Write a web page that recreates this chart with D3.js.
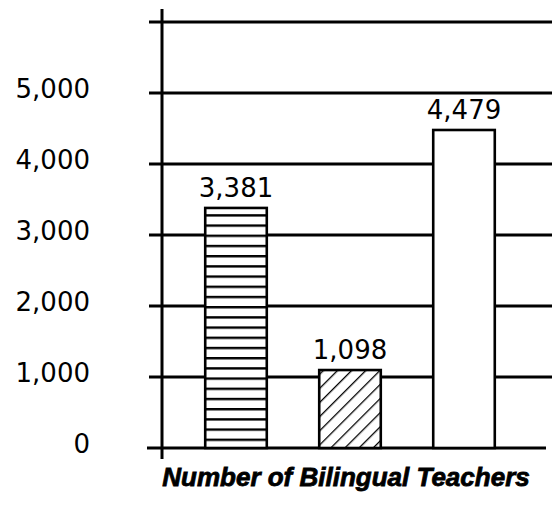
<!DOCTYPE html>
<html>
<head>
<meta charset="utf-8">
<script src="https://cdn.jsdelivr.net/npm/d3@7"></script>
<style>
  body { margin: 0; background: #fff; }
  svg { display: block; }
</style>
</head>
<body>
<div id="chart"></div>
<script>
const width = 554;
const height = 505;

// data
const groups = ["A", "B", "C"];
const teachers = [3381, 1098, 4479];
const fills = ["hlines", "diag", "plain"];
const yTicks = [0, 1000, 2000, 3000, 4000, 5000, 6000];
const yTickLabels = ["0", "1,000", "2,000", "3,000", "4,000", "5,000", ""];
const title = "Number of Bilingual Teachers";

const axisX = 162;

const svg = d3.select("#chart").append("svg")
    .attr("width", width)
    .attr("height", height);

const defs = svg.append("defs");

// horizontal stripes
const ph = defs.append("pattern")
    .attr("id", "hlines")
    .attr("patternUnits", "userSpaceOnUse")
    .attr("width", 10)
    .attr("height", 10.2);
ph.append("rect").attr("width", 10).attr("height", 10.2).attr("fill", "#fff");
ph.append("line")
    .attr("x1", 0).attr("x2", 10)
    .attr("y1", 1.2).attr("y2", 1.2)
    .attr("stroke", "#000").attr("stroke-width", 2.4);

// diagonal hatching "/"
const pd = defs.append("pattern")
    .attr("id", "diag")
    .attr("patternUnits", "userSpaceOnUse")
    .attr("width", 10)
    .attr("height", 10)
    .attr("patternTransform", "rotate(45)");
pd.append("rect").attr("width", 10).attr("height", 10).attr("fill", "#fff");
pd.append("line")
    .attr("x1", 0).attr("x2", 0)
    .attr("y1", 0).attr("y2", 10)
    .attr("stroke", "#000").attr("stroke-width", 2.6);

const y = d3.scaleLinear()
    .domain([0, 6000])
    .range([448, 22]);

const x = d3.scaleBand()
    .domain(groups)
    .range([179, 521])
    .paddingInner(0.46)
    .paddingOuter(0.23);

// gridlines
svg.append("g").selectAll("line.grid")
    .data(yTicks)
    .join("line")
    .attr("class", "grid")
    .attr("x1", d => d === 0 ? 147 : 149)
    .attr("x2", d => d === 0 ? 546 : 552)
    .attr("y1", d => y(d))
    .attr("y2", d => y(d))
    .attr("stroke", "#000")
    .attr("stroke-width", 3);

// vertical axis
svg.append("line")
    .attr("x1", axisX).attr("x2", axisX)
    .attr("y1", 9).attr("y2", 459)
    .attr("stroke", "#000")
    .attr("stroke-width", 3);

// tick labels
svg.append("g").selectAll("text.tick")
    .data(yTicks)
    .join("text")
    .attr("class", "tick")
    .attr("x", 90)
    .attr("y", d => y(d) - 4)
    .attr("dy", "0.36em")
    .attr("text-anchor", "end")
    .style("font", "26px 'DejaVu Sans', sans-serif")
    .text((d, i) => yTickLabels[i]);

// bars
const bars = groups.map((g, i) => ({ g, v: teachers[i], f: fills[i] }));

svg.append("g").selectAll("rect.bar")
    .data(bars)
    .join("rect")
    .attr("class", "bar")
    .attr("x", d => x(d.g))
    .attr("width", x.bandwidth())
    .attr("y", d => y(d.v))
    .attr("height", d => y(0) - y(d.v))
    .attr("fill", d => d.f === "plain" ? "#fff" : `url(#${d.f})`)
    .attr("stroke", "#000")
    .attr("stroke-width", 2.6);

// value labels
svg.append("g").selectAll("text.value")
    .data(bars)
    .join("text")
    .attr("class", "value")
    .attr("x", d => x(d.g) + x.bandwidth() / 2)
    .attr("y", d => y(d.v) - 11)
    .attr("text-anchor", "middle")
    .style("font", "26px 'DejaVu Sans', sans-serif")
    .text(d => d3.format(",")(d.v));

// title
svg.append("text")
    .attr("x", 346)
    .attr("y", 486)
    .attr("text-anchor", "middle")
    .attr("stroke", "#000")
    .attr("stroke-width", 0.8)
    .style("font", "italic bold 26px 'Liberation Sans', Arial, sans-serif")
    .text(title);
</script>
</body>
</html>
